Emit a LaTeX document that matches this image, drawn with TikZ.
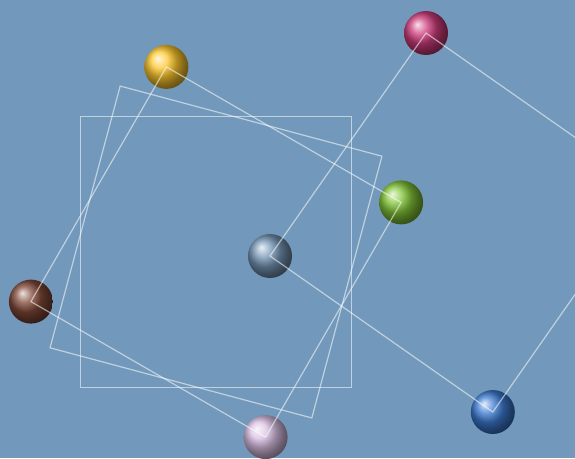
\documentclass[tikz,border=0pt]{standalone}
\usetikzlibrary{positioning}
\definecolor{bgblue}{RGB}{114,153,187}
\definecolor{amber}{RGB}{255,200,45}
\definecolor{cocoa}{RGB}{128,72,56}
\definecolor{slate}{RGB}{118,150,182}
\definecolor{lime}{RGB}{130,196,55}
\definecolor{berry}{RGB}{205,60,122}
\definecolor{cobalt}{RGB}{60,122,208}
\definecolor{lilac}{RGB}{218,192,228}

\begin{document}
\begin{tikzpicture}[
    x=1pt, y=-1pt,
    ball/.style={circle, inner sep=0pt, minimum size=44pt, shading=ball},
    link/.style={draw=white, opacity=0.55, line width=1.2pt}
]
\fill[bgblue] (0,0) rectangle (575,458);
\clip (0,0) rectangle (575,458);

% plain squares round the common centre
\draw[link] (80.5,116.5) rectangle (351.5,387.5);
\draw[link, rotate around={-15:(216,252)}] (80.5,116.5) rectangle (351.5,387.5);

% balls
\node[ball, ball color=amber] (amber) at (166.4,66.9) {};
\node[ball, ball color=lime] (lime) at (401.1,202.4) {};
\node[ball, ball color=lilac] (lilac) at (265.6,437.1) {};
\node[ball, ball color=cocoa] (cocoa) at (30.9,301.6) {};
\node[ball, ball color=slate] (slate) at (270,256) {};
\node[ball, ball color=berry] (berry) at (426,33) {};
\node[ball, ball color=cobalt] (cobalt) at (492.8,412) {};
\coordinate (far) at (648.8,189);

% squares through the balls
\draw[link] (amber.center) -- (lime.center) -- (lilac.center) -- (cocoa.center) -- cycle;
\draw[link] (slate.center) -- (berry.center) -- (far) -- (cobalt.center) -- cycle;
\end{tikzpicture}
\end{document}
